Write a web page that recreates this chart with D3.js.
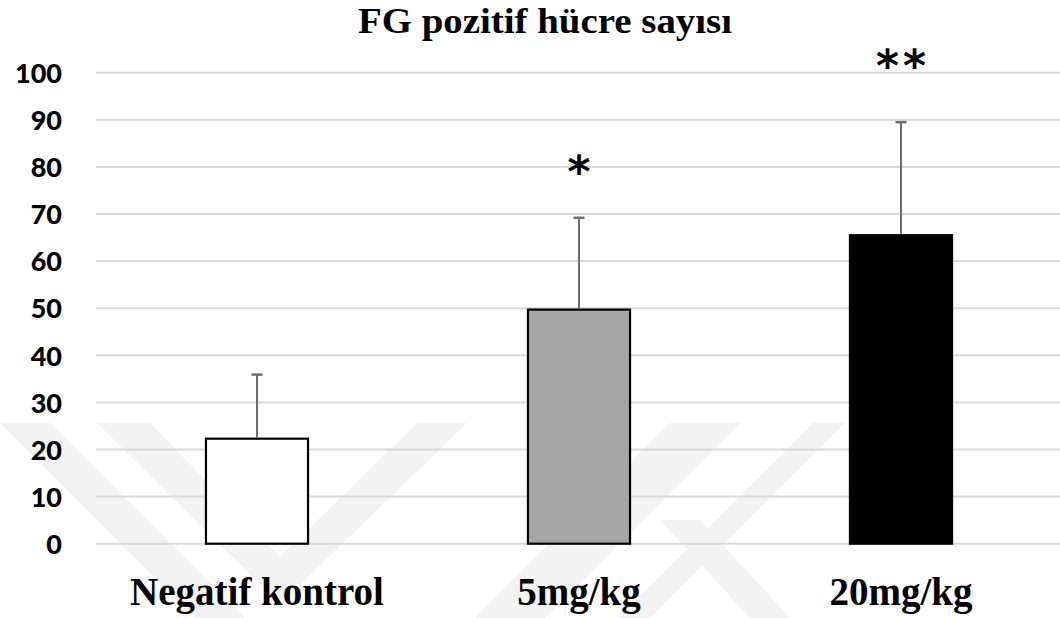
<!DOCTYPE html>
<html>
<head>
<meta charset="utf-8">
<script src="https://cdn.jsdelivr.net/npm/d3@7"></script>
<style>
  body { margin: 0; background: #fff; }
  svg { display: block; }
</style>
</head>
<body>
<div id="chart"></div>
<script>
const categories = ["Negatif kontrol", "5mg/kg", "20mg/kg"];
const means = [22.3, 49.7, 65.5];
const errors = [13.6, 19.5, 24.0];
const barColors = ["#ffffff", "#a6a6a6", "#000000"];
const stars = ["", "*", "**"];
const starLevels = [0, 80.2, 102.7];
const yTicks = [0, 10, 20, 30, 40, 50, 60, 70, 80, 90, 100];
const titleText = "FG pozitif hücre sayısı";

// faint thesis watermark shapes (background decoration)
const watermark = [
    [[97, 423], [150, 423], [280, 557], [417, 423], [467, 423], [280, 604]],
    [[0, 423], [50, 423], [245, 618], [195, 618]],
    [[670, 423], [740, 423], [545, 618], [475, 618]],
    [[813, 423], [845, 423], [650, 618], [618, 618]],
    [[660, 520], [700, 520], [790, 618], [750, 618]]
];

const width = 1060, height = 618;
const svg = d3.select("#chart").append("svg")
    .attr("width", width)
    .attr("height", height);

svg.selectAll("polygon.wm")
    .data(watermark)
    .enter()
    .append("polygon")
    .attr("class", "wm")
    .attr("points", d => d.map(p => p.join(",")).join(" "))
    .attr("fill", "#f3f3f3");

const x = d3.scaleBand().domain(categories).range([96, 1062]).padding(0);
const y = d3.scaleLinear().domain([0, 100]).range([543.7, 72.7]);
const barW = x.bandwidth() * 0.317;

// gridlines
svg.selectAll("line.grid")
    .data(yTicks)
    .enter()
    .append("line")
    .attr("class", "grid")
    .attr("x1", 96)
    .attr("x2", width)
    .attr("y1", d => y(d))
    .attr("y2", d => y(d))
    .attr("stroke", "#d9d9d9")
    .attr("stroke-width", 2);

// y axis labels
const yAxis = svg.append("g")
    .attr("transform", "translate(62,0)")
    .call(d3.axisLeft(y).tickValues(yTicks).tickSize(0).tickPadding(0));
yAxis.select(".domain").remove();
yAxis.selectAll("text")
    .attr("font-family", "Lato, 'Open Sans', sans-serif")
    .attr("font-weight", 900)
    .attr("font-size", 27)
    .attr("fill", "#000")
    .attr("dy", "0.36em");

// bars
svg.selectAll("rect.bar")
    .data(categories)
    .enter()
    .append("rect")
    .attr("class", "bar")
    .attr("x", d => x(d) + x.bandwidth() / 2 - barW / 2)
    .attr("y", (d, i) => y(means[i]))
    .attr("width", barW)
    .attr("height", (d, i) => y(0) - y(means[i]))
    .attr("fill", (d, i) => barColors[i])
    .attr("stroke", "#000")
    .attr("stroke-width", 2.2);

// error bars (upper only)
const cx = d => x(d) + x.bandwidth() / 2;
svg.selectAll("line.err")
    .data(categories)
    .enter()
    .append("line")
    .attr("class", "err")
    .attr("x1", cx).attr("x2", cx)
    .attr("y1", (d, i) => y(means[i]) - 1)
    .attr("y2", (d, i) => y(means[i] + errors[i]))
    .attr("stroke", "#6e6e6e")
    .attr("stroke-width", 2);
svg.selectAll("line.cap")
    .data(categories)
    .enter()
    .append("line")
    .attr("class", "cap")
    .attr("x1", d => cx(d) - 5.5).attr("x2", d => cx(d) + 5.5)
    .attr("y1", (d, i) => y(means[i] + errors[i]))
    .attr("y2", (d, i) => y(means[i] + errors[i]))
    .attr("stroke", "#6e6e6e")
    .attr("stroke-width", 2.5);

// significance marks
svg.selectAll("text.star")
    .data(categories)
    .enter()
    .append("text")
    .attr("class", "star")
    .attr("x", d => cx(d) + 2)
    .attr("y", (d, i) => y(starLevels[i]) + 21)
    .attr("text-anchor", "middle")
    .attr("font-family", "'DejaVu Sans', sans-serif")
    .attr("font-weight", "bold")
    .attr("font-size", 44)
    .attr("letter-spacing", 4)
    .attr("fill", "#000")
    .text((d, i) => stars[i]);

// x labels
svg.selectAll("text.xlab")
    .data(categories)
    .enter()
    .append("text")
    .attr("class", "xlab")
    .attr("x", cx)
    .attr("y", 605)
    .attr("text-anchor", "middle")
    .attr("font-family", "'Liberation Serif', 'Times New Roman', serif")
    .attr("font-weight", "bold")
    .attr("font-size", 39)
    .attr("fill", "#000")
    .text(d => d);

// title
svg.append("text")
    .attr("x", 545)
    .attr("y", 33)
    .attr("text-anchor", "middle")
    .attr("font-family", "'Liberation Serif', 'Times New Roman', serif")
    .attr("font-weight", "bold")
    .attr("font-size", 36)
    .attr("textLength", 374)
    .attr("lengthAdjust", "spacingAndGlyphs")
    .attr("fill", "#000")
    .text(titleText);
</script>
</body>
</html>
